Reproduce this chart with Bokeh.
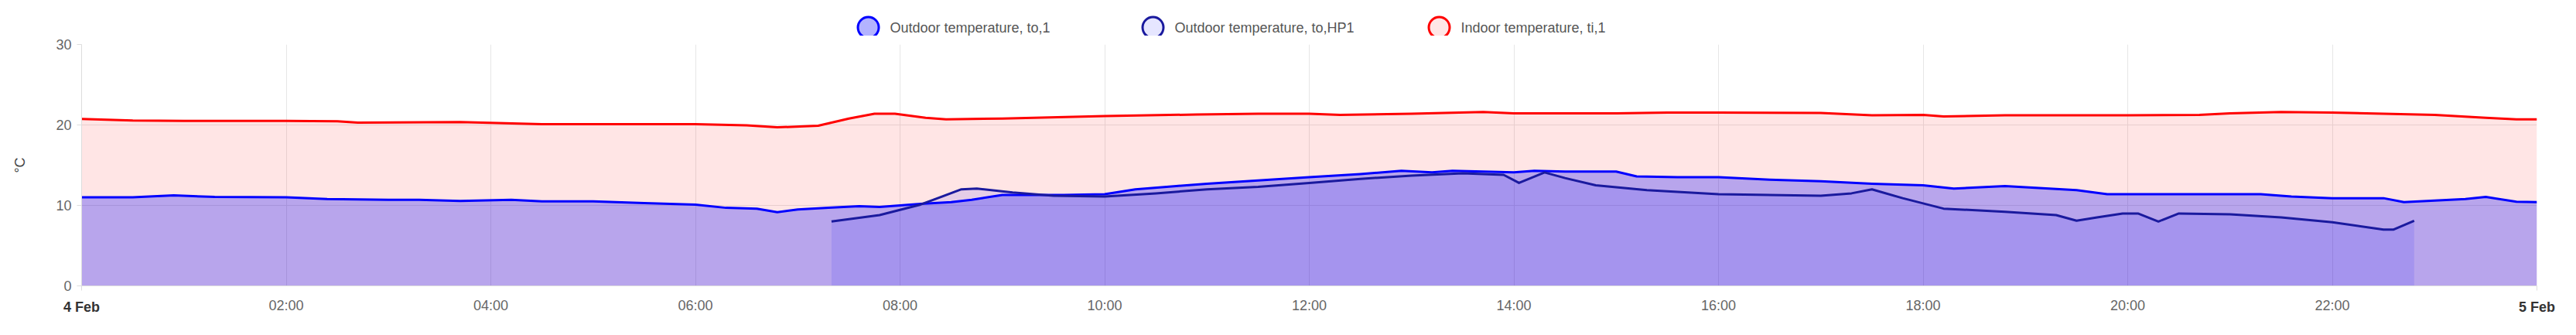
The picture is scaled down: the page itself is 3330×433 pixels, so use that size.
from bokeh.plotting import figure
from bokeh.models import Range1d, FixedTicker, LinearAxis
from bokeh.layouts import column
from bokeh.core.properties import value
from bokeh.embed import file_html
from bokeh.resources import INLINE

# ---- data (hours after 4 Feb 00:00, temperatures in °C) ----
hours_to1 = [0, 0.5, 0.9, 1.3, 2.0, 2.4, 3.0, 3.3, 3.7, 4.2, 4.5, 5.0, 5.5, 6.0, 6.3, 6.6,
             6.8, 7.0, 7.3, 7.6, 7.8, 8.2, 8.5, 8.7, 9.0, 9.6, 10.0, 10.3, 10.7, 11.0, 11.5,
             12.0, 12.5, 12.9, 13.2, 13.4, 14.0, 14.2, 14.5, 15.0, 15.2, 15.6, 16.0, 16.5,
             17.0, 17.5, 18.0, 18.3, 18.8, 19.5, 19.8, 20.0, 21.3, 21.6, 22.0, 22.5, 22.7,
             23.0, 23.3, 23.5, 23.8, 24.0]
temp_to1 = [11.0, 11.0, 11.25, 11.05, 11.0, 10.8, 10.7, 10.7, 10.55, 10.7, 10.5, 10.5, 10.3,
            10.1, 9.7, 9.6, 9.15, 9.5, 9.7, 9.9, 9.8, 10.2, 10.4, 10.7, 11.3, 11.3, 11.4, 12.0,
            12.4, 12.7, 13.1, 13.5, 13.9, 14.3, 14.1, 14.3, 14.1, 14.3, 14.2, 14.2, 13.6, 13.5,
            13.5, 13.2, 13.0, 12.7, 12.5, 12.1, 12.4, 11.9, 11.4, 11.4, 11.4, 11.1, 10.9, 10.9,
            10.4, 10.6, 10.8, 11.05, 10.45, 10.4]

hours_hp1 = [7.33, 7.8, 8.2, 8.6, 8.75, 9.1, 9.5, 10.0, 10.5, 11.0, 11.5, 12.0, 12.5, 13.0,
             13.5, 13.9, 14.05, 14.3, 14.5, 14.8, 15.3, 16.0, 17.0, 17.3, 17.5, 17.8, 18.2,
             18.8, 19.3, 19.5, 19.7, 19.95, 20.1, 20.3, 20.5, 21.0, 21.5, 22.0, 22.5, 22.6, 22.8]
temp_hp1 = [8.0, 8.8, 10.1, 12.0, 12.1, 11.6, 11.2, 11.1, 11.5, 12.0, 12.3, 12.8, 13.3, 13.7,
            14.0, 13.8, 12.8, 14.1, 13.4, 12.5, 11.9, 11.4, 11.2, 11.5, 12.0, 10.9, 9.6, 9.2,
            8.8, 8.1, 8.5, 9.0, 9.0, 8.0, 9.0, 8.9, 8.5, 7.9, 7.0, 7.0, 8.1]

hours_ti1 = [0, 0.5, 1.0, 2.0, 2.5, 2.7, 3.7, 4.5, 5.0, 6.0, 6.5, 6.8, 7.2, 7.5, 7.75, 7.95,
             8.25, 8.45, 9.0, 10.0, 10.9, 11.5, 12.0, 12.3, 13.0, 13.7, 14.0, 15.0, 15.5, 16.0,
             17.0, 17.5, 18.0, 18.2, 18.8, 20.0, 20.7, 21.0, 21.5, 22.0, 22.5, 23.0, 23.5,
             23.8, 24.0]
temp_ti1 = [20.75, 20.55, 20.5, 20.5, 20.45, 20.3, 20.35, 20.1, 20.1, 20.1, 19.95, 19.7, 19.9,
            20.8, 21.4, 21.4, 20.9, 20.7, 20.8, 21.1, 21.3, 21.4, 21.4, 21.25, 21.4, 21.6,
            21.45, 21.45, 21.55, 21.55, 21.5, 21.2, 21.25, 21.05, 21.2, 21.2, 21.25, 21.45,
            21.6, 21.55, 21.4, 21.25, 20.9, 20.7, 20.7]

series_names = ["Outdoor temperature, to,1", "Outdoor temperature, to,HP1",
                "Indoor temperature, ti,1"]
x_ticks = [0, 2, 4, 6, 8, 10, 12, 14, 16, 18, 20, 22, 24]
x_tick_labels = ["4 Feb", "02:00", "04:00", "06:00", "08:00", "10:00", "12:00", "14:00",
                 "16:00", "18:00", "20:00", "22:00", "5 Feb"]
y_ticks = [0, 10, 20, 30]

# ---- styles / layout ----
FONT = "Liberation Sans"
BLUE = "#0000ff"
NAVY = "#1a1a9e"
RED = "#ff0000"
W = 3314
LEFT, RIGHT = 105, 35
FRAME_H = 312
LEG_H, TOP_B, BOT_B = 46, 11, 48
PAGE = 8

# ---- legend strip (its frame is aligned with the main frame; x in page pixels) ----
leg = figure(width=W, height=LEG_H, output_backend="svg", toolbar_location=None,
             x_range=Range1d(PAGE + LEFT, PAGE + W - RIGHT), y_range=Range1d(0, LEG_H),
             x_axis_type=None, y_axis_type=None, min_border_left=LEFT,
             min_border_right=RIGHT, min_border_top=0, min_border_bottom=0)
leg.outline_line_color = None
leg.grid.visible = False
leg_cx = [1130, 1498, 1868]
leg_cy = LEG_H - 35
leg.scatter(x=leg_cx, y=[leg_cy] * 3, marker="circle", size=27, line_width=3,
            line_color=[BLUE, NAVY, RED], fill_color=["#b3b3ff", "#e6e6ff", "#ffe6e6"])
leg.text(x=[c + 28 for c in leg_cx], y=[leg_cy] * 3, text=series_names,
         text_font=value(FONT), text_font_size="18px", text_color="#555555",
         text_align="left", text_baseline="middle")

# ---- main plot ----
p = figure(width=W, height=TOP_B + FRAME_H + BOT_B, output_backend="svg",
           toolbar_location=None, x_range=Range1d(0, 24), y_range=Range1d(0, 30),
           x_axis_location=None,
           min_border_left=LEFT, min_border_right=RIGHT, min_border_top=TOP_B,
           min_border_bottom=BOT_B)
p.outline_line_color = None
p.background_fill_color = "white"
p.border_fill_color = "white"

p.varea(x=hours_ti1, y1=0, y2=temp_ti1, fill_color=RED, fill_alpha=0.1)
p.varea(x=hours_to1, y1=0, y2=temp_to1, fill_color=BLUE, fill_alpha=0.28)
p.varea(x=hours_hp1, y1=0, y2=temp_hp1, fill_color=BLUE, fill_alpha=0.1)

p.line(hours_ti1, temp_ti1, line_color=RED, line_width=3, line_join="round")
p.line(hours_to1, temp_to1, line_color=BLUE, line_width=3, line_join="round")
p.line(hours_hp1, temp_hp1, line_color=NAVY, line_width=3, line_join="round")

p.xgrid.ticker = FixedTicker(ticks=x_ticks)
p.ygrid.ticker = FixedTicker(ticks=y_ticks)
p.xgrid.grid_line_color = "#e6e6e6"
p.ygrid.grid_line_color = "#e6e6e6"

# x axes: bold day labels (ticks at the day boundaries) and the hour labels
day_ticks = [t for t, s in zip(x_ticks, x_tick_labels) if "Feb" in s]
hour_ticks = [t for t, s in zip(x_ticks, x_tick_labels) if "Feb" not in s]
ax_day = LinearAxis(ticker=FixedTicker(ticks=day_ticks),
                    major_label_overrides={t: s for t, s in zip(x_ticks, x_tick_labels)
                                           if "Feb" in s})
ax_hour = LinearAxis(ticker=FixedTicker(ticks=hour_ticks),
                     major_label_overrides={t: s for t, s in zip(x_ticks, x_tick_labels)
                                            if "Feb" not in s})
p.add_layout(ax_day, "below")
p.add_layout(ax_hour, "below")
for ax in (ax_day, ax_hour):
    ax.major_label_text_font = FONT
    ax.major_label_text_font_size = "18px"
    ax.minor_tick_line_color = None
    ax.major_tick_in = 0
ax_day.axis_line_color = "#dddddd"
ax_day.major_tick_line_color = "#dddddd"
ax_day.major_tick_out = 6
ax_day.major_label_standoff = 11
ax_day.major_label_text_font_style = "bold"
ax_day.major_label_text_color = "#333333"
ax_hour.axis_line_color = None
ax_hour.major_tick_line_color = None
ax_hour.major_tick_out = 0
ax_hour.major_label_standoff = -25
ax_hour.major_label_text_color = "#666666"

yax = p.yaxis[0]
yax.ticker = FixedTicker(ticks=y_ticks)
yax.major_label_text_font = FONT
yax.major_label_text_font_size = "18px"
yax.major_label_text_color = "#666666"
yax.major_label_standoff = 7
yax.axis_line_color = "#dddddd"
yax.major_tick_line_color = "#dddddd"
yax.major_tick_out = 6
yax.major_tick_in = 0
yax.minor_tick_line_color = None
yax.axis_label = "°C"
yax.axis_label_text_font = FONT
yax.axis_label_text_font_size = "18px"
yax.axis_label_text_font_style = "normal"
yax.axis_label_text_color = "#444444"
yax.axis_label_standoff = 33

layout = column(leg, p, spacing=0)
open("out.html", "w").write(file_html(layout, INLINE))
